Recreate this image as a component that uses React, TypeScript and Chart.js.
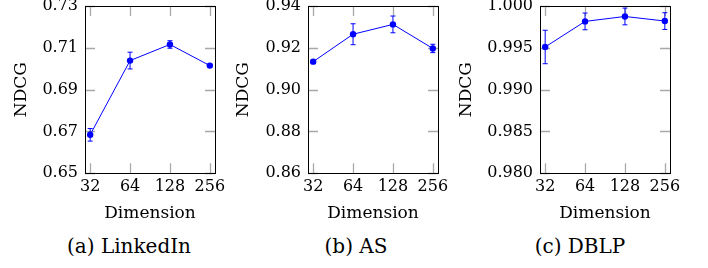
import React, { useEffect, useRef } from "react";
import { Chart, registerables } from "chart.js";

Chart.register(...registerables);

// ---- data ----
const dims = ["32", "64", "128", "256"];

const linkedinNdcg = [0.6684, 0.7039, 0.7116, 0.7015];
const linkedinErr = [0.003, 0.004, 0.0018, 0.0006];
const linkedinTicks = [0.65, 0.67, 0.69, 0.71, 0.73];

const asNdcg = [0.9134, 0.9265, 0.9312, 0.9197];
const asErr = [0.0006, 0.005, 0.004, 0.002];
const asTicks = [0.86, 0.88, 0.9, 0.92, 0.94];

const dblpNdcg = [0.9951, 0.99816, 0.99875, 0.9982];
const dblpErr = [0.002, 0.001, 0.001, 0.001];
const dblpTicks = [0.98, 0.985, 0.99, 0.995, 1.0];

const captions = ["(a) LinkedIn", "(b) AS", "(c) DBLP"];
const yTitle = "NDCG";
const xTitle = "Dimension";

// ---- layout (not data) ----
const CANVAS_H = 230;
const PLOT_TOP = 6;
const PLOT_BOTTOM = 173.3;
const PLOT_W = 130;
const SERIF = "'DejaVu Serif', 'Liberation Serif', serif";

type PanelLayout = { left: number; yAxisW: number; width: number; decimals: number; captionCenter: number };

const panels = [
  { values: linkedinNdcg, errors: linkedinErr, ticks: linkedinTicks, layout: { left: 0, yAxisW: 85, width: 236, decimals: 2, captionCenter: 129 } },
  { values: asNdcg, errors: asErr, ticks: asTicks, layout: { left: 222, yAxisW: 86, width: 237, decimals: 2, captionCenter: 356 } },
  { values: dblpNdcg, errors: dblpErr, ticks: dblpTicks, layout: { left: 445, yAxisW: 95, width: 246, decimals: 3, captionCenter: 580 } },
];

const BLUE = "#0000ff";
const TICK_GRAY = "#a8a8a8";

const pgfPlugin = {
  id: "pgfDecor",
  beforeDatasetsDraw(chart: any, _args: any, opts: any) {
    const { ctx, chartArea: a, scales } = chart;
    const x = scales.x;
    const y = scales.y;
    const L = 10;
    ctx.save();
    ctx.strokeStyle = TICK_GRAY;
    ctx.lineWidth = 1.3;
    ctx.beginPath();
    x.ticks.forEach((t: any) => {
      const px = Math.round(x.getPixelForValue(t.value)) + 0.5;
      ctx.moveTo(px, a.top);
      ctx.lineTo(px, a.top + L);
      ctx.moveTo(px, a.bottom);
      ctx.lineTo(px, a.bottom - L);
    });
    y.ticks.forEach((t: any) => {
      const py = Math.round(y.getPixelForValue(t.value)) + 0.5;
      ctx.moveTo(a.left, py);
      ctx.lineTo(a.left + L, py);
      ctx.moveTo(a.right, py);
      ctx.lineTo(a.right - L, py);
    });
    ctx.stroke();

    // error bars
    const errs: number[] = opts.errors || [];
    const data = chart.data.datasets[0].data;
    ctx.strokeStyle = BLUE;
    ctx.lineWidth = 1;
    ctx.beginPath();
    data.forEach((d: any, i: number) => {
      const e = errs[i] || 0;
      const px = x.getPixelForValue(d.x);
      const y1 = y.getPixelForValue(d.y + e);
      const y2 = y.getPixelForValue(d.y - e);
      const cap = 2.5;
      ctx.moveTo(px, y1);
      ctx.lineTo(px, y2);
      ctx.moveTo(px - cap, y1);
      ctx.lineTo(px + cap, y1);
      ctx.moveTo(px - cap, y2);
      ctx.lineTo(px + cap, y2);
    });
    ctx.stroke();
    ctx.restore();
  },
  afterDatasetsDraw(chart: any) {
    const { ctx, chartArea: a } = chart;
    ctx.save();
    ctx.strokeStyle = "#000";
    ctx.lineWidth = 1;
    ctx.strokeRect(Math.round(a.left) + 0.5, Math.round(a.top) + 0.5, Math.round(a.right - a.left), Math.round(a.bottom - a.top));
    ctx.restore();
  },
};

function Panel({ values, errors, ticks, layout }: { values: number[]; errors: number[]; ticks: number[]; layout: PanelLayout }) {
  const ref = useRef<HTMLCanvasElement | null>(null);
  useEffect(() => {
    if (!ref.current) return;
    const rightPad = layout.width - layout.yAxisW - PLOT_W;
    const chart = new Chart(ref.current, {
      type: "line",
      data: {
        datasets: [
          {
            data: values.map((v, i) => ({ x: i, y: v })),
            borderColor: BLUE,
            backgroundColor: BLUE,
            borderWidth: 1,
            pointRadius: 3.2,
            pointBorderWidth: 0,
            pointBackgroundColor: BLUE,
            tension: 0,
          },
        ],
      },
      plugins: [pgfPlugin],
      options: {
        animation: false,
        responsive: false,
        devicePixelRatio: 1,
        layout: { padding: { top: PLOT_TOP, right: rightPad, left: 0, bottom: 0 } },
        plugins: {
          legend: { display: false },
          tooltip: { enabled: false },
          pgfDecor: { errors },
        } as any,
        scales: {
          x: {
            type: "linear",
            min: -0.13,
            max: 3.13,
            grid: { display: false, drawTicks: false },
            border: { display: false },
            afterBuildTicks: (axis: any) => {
              axis.ticks = dims.map((_, i) => ({ value: i }));
            },
            afterFit: (axis: any) => {
              axis.height = CANVAS_H - PLOT_BOTTOM;
              axis.paddingLeft = 0;
              axis.paddingRight = 0;
            },
            ticks: {
              padding: 4,
              color: "#000",
              maxRotation: 0,
              autoSkip: false,
              font: { family: SERIF, size: 16 },
              callback: (v: any) => dims[v as number],
            },
            title: {
              display: true,
              text: xTitle,
              color: "#000",
              font: { family: SERIF, size: 17, lineHeight: 1.2 },
              padding: { top: 0, bottom: 6 },
            },
          },
          y: {
            type: "linear",
            min: ticks[0],
            max: ticks[ticks.length - 1],
            grid: { display: false, drawTicks: false },
            border: { display: false },
            afterBuildTicks: (axis: any) => {
              axis.ticks = ticks.map((t) => ({ value: t }));
            },
            afterFit: (axis: any) => {
              axis.width = layout.yAxisW;
              axis.paddingTop = 0;
              axis.paddingBottom = 0;
            },
            ticks: {
              padding: 7,
              color: "#000",
              autoSkip: false,
              font: { family: SERIF, size: 16 },
              callback: (v: any) => Number(v).toFixed(layout.decimals),
            },
            title: {
              display: true,
              text: yTitle,
              color: "#000",
              font: { family: SERIF, size: 17, lineHeight: 1.2 },
              padding: { top: 11, bottom: 0 },
            },
          },
        },
      } as any,
    });
    return () => chart.destroy();
  }, []);
  return (
    <canvas
      ref={ref}
      width={layout.width}
      height={CANVAS_H}
      style={{ position: "absolute", left: layout.left, top: 0, width: layout.width, height: CANVAS_H }}
    />
  );
}

export default function App() {
  return (
    <div style={{ position: "absolute", left: 0, top: 0, width: 708, height: 268, background: "#fff", overflow: "hidden" }}>
      {panels.map((p, i) => (
        <Panel key={i} values={p.values} errors={p.errors} ticks={p.ticks} layout={p.layout} />
      ))}
      {panels.map((p, i) => (
        <div
          key={"c" + i}
          style={{
            position: "absolute",
            left: p.layout.captionCenter - 100,
            width: 200,
            top: 235,
            textAlign: "center",
            fontFamily: SERIF,
            fontSize: 20,
            lineHeight: "23px",
            color: "#000",
          }}
        >
          {captions[i]}
        </div>
      ))}
    </div>
  );
}
